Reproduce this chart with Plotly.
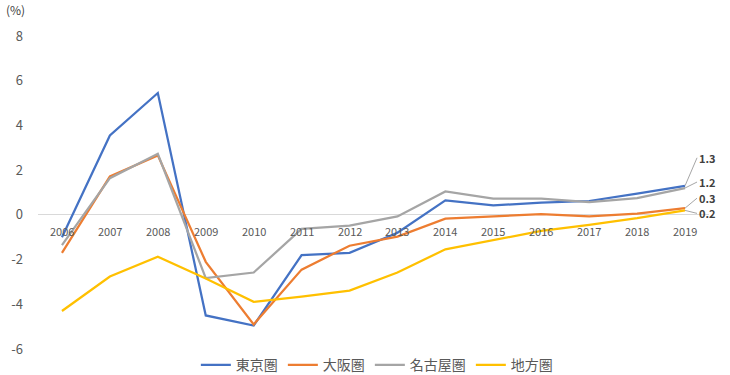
import plotly.graph_objects as go

years = [2006, 2007, 2008, 2009, 2010, 2011, 2012, 2013, 2014, 2015, 2016, 2017, 2018, 2019]
year_labels = [str(y) for y in years]

tokyo = [-1.0, 3.55, 5.45, -4.5, -4.95, -1.8, -1.7, -0.8, 0.65, 0.42, 0.55, 0.62, 0.95, 1.3]
osaka = [-1.7, 1.72, 2.66, -2.1, -4.9, -2.45, -1.38, -0.97, -0.17, -0.07, 0.03, -0.07, 0.05, 0.3]
nagoya = [-1.35, 1.64, 2.73, -2.83, -2.58, -0.63, -0.48, -0.07, 1.05, 0.73, 0.73, 0.57, 0.75, 1.2]
chiho = [-4.3, -2.76, -1.87, -2.85, -3.89, -3.66, -3.39, -2.58, -1.54, -1.12, -0.72, -0.45, -0.15, 0.2]

series = [
    ("東京圏", tokyo, "#4472C4"),
    ("大阪圏", osaka, "#ED7D31"),
    ("名古屋圏", nagoya, "#A5A5A5"),
    ("地方圏", chiho, "#FFC000"),
]

y_ticks = [-6, -4, -2, 0, 2, 4, 6, 8]
font_family = "Noto Sans CJK JP, Noto Sans, sans-serif"

fig = go.Figure()
for name, vals, color in series:
    fig.add_trace(go.Scatter(x=years, y=vals, mode="lines", name=name,
                             line=dict(color=color, width=2.25)))

annotations = []
for yl, yr in zip(year_labels, years):
    annotations.append(dict(x=yr, y=0, xref="x", yref="y", text=yl, showarrow=False,
                            yanchor="top", yshift=-6,
                            font=dict(size=11, color="#595959", family=font_family)))

# end-point data labels with leader lines (pixel offsets)
end_labels = [
    (tokyo[-1], "1.3", -28),
    (nagoya[-1], "1.2", -6),
    (osaka[-1], "0.3", -10),
    (chiho[-1], "0.2", 3),
]
for val, txt, dy in end_labels:
    annotations.append(dict(x=years[-1], y=val, xref="x", yref="y", text="<b>" + txt + "</b>",
                            showarrow=True, arrowhead=0, arrowwidth=1, arrowcolor="#A6A6A6",
                            ax=12, ay=dy, xanchor="left",
                            font=dict(size=11, color="#404040", family=font_family)))

annotations.append(dict(x=-0.05, y=1.0, xref="paper", yref="paper", xanchor="left", yanchor="bottom",
                        text="(%)", showarrow=False, yshift=16,
                        font=dict(size=12, color="#404040", family=font_family)))

fig.update_layout(
    width=730, height=375,
    margin=dict(l=38, r=21, t=36, b=26, autoexpand=False),
    paper_bgcolor="white", plot_bgcolor="white",
    font=dict(family=font_family, color="#595959"),
    showlegend=True,
    legend=dict(orientation="h", x=0.505, xanchor="center", y=-0.052, yanchor="middle",
                font=dict(size=14, color="#595959", family=font_family),
                itemwidth=30, tracegroupgap=0),
    annotations=annotations,
)
fig.update_xaxes(range=[2005.5, 2019.5], showticklabels=False, showgrid=False,
                 zeroline=False, showline=False, automargin=False)
fig.update_yaxes(range=[-6, 8], tickvals=y_ticks, ticktext=[str(t) for t in y_ticks],
                 showgrid=False, zeroline=True, zerolinecolor="#D9D9D9", zerolinewidth=1,
                 showline=False, tickfont=dict(size=13, color="#595959", family=font_family),
                 ticklabelstandoff=14, automargin=False)

fig.write_html("out.html", config={"displayModeBar": False},
               post_script="document.body.style.margin='0';document.body.style.overflow='hidden';")
